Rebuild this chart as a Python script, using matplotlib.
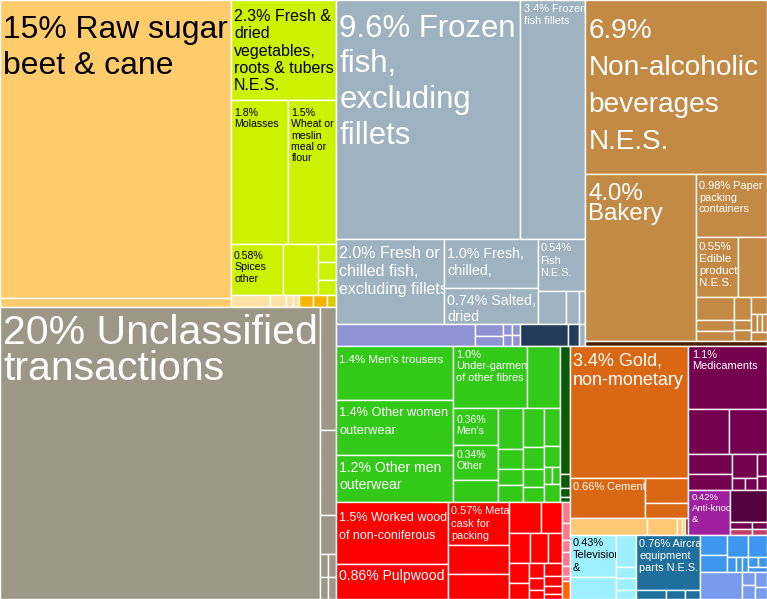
import matplotlib
matplotlib.use('Agg')
import matplotlib.pyplot as plt
from matplotlib.patches import Rectangle
from matplotlib import font_manager as fm

# ---------------- data (share of exports, %) ----------------
sugar_values = [15.0, 0.45]
sugar_labels = ["{p} Raw sugar\nbeet & cane", None]

veg_values = [2.3, 1.8, 1.5, 0.58, 0.39, 0.07, 0.07, 0.06]
veg_labels = ["{p} Fresh &\ndried\nvegetables,\nroots & tubers\nN.E.S.",
              "{p}\nMolasses", "{p}\nWheat or\nmeslin\nmeal or\nflour",
              "{p}\nSpices\nother", None, None, None, None]

pale_values = [0.10, 0.04, 0.02, 0.015]
amber_values = [0.035, 0.035]
olive_values = [0.025]

uncl_values = [20.4, 0.44, 0.30, 0.14, 0.04, 0.04, 0.04, 0.04]
uncl_labels = ["{p} Unclassified\ntransactions"] + [None] * 7

fish_values = [9.6, 3.4, 2.0, 1.0, 0.74, 0.54, 0.21, 0.09, 0.05, 0.03]
fish_labels = ["{p} Frozen\nfish,\nexcluding\nfillets", "{p} Frozen\nfish fillets",
               "{p} Fresh or\nchilled fish,\nexcluding fillets", "{p} Fresh,\nchilled,",
               "{p} Salted,\ndried", "{p}\nFish\nN.E.S.", None, None, None, None]

lav_values = [0.64, 0.07, 0.06, 0.02, 0.02, 0.02, 0.02]
navy_values = [0.22, 0.05]

bev_values = [6.9, 4.0, 0.98, 0.55, 0.37, 0.19, 0.09, 0.08, 0.09, 0.04, 0.04,
              0.06, 0.02, 0.02, 0.02, 0.03]
bev_labels = ["{p}\nNon-alcoholic\nbeverages\nN.E.S.", "{p}\nBakery",
              "{p} Paper\npacking\ncontainers", "{p}\nEdible\nproducts\nN.E.S."] + [None] * 12
dbrown_values = [0.2]

tex_values = [1.4, 1.4, 1.2, 1.0, 0.45, 0.36, 0.34, 0.22, 0.22, 0.11, 0.09, 0.09,
              0.18, 0.10, 0.08, 0.07, 0.13, 0.07, 0.03, 0.03, 0.06]
tex_labels = ["{p} Men's trousers", "{p} Other women\nouterwear", "{p} Other men\nouterwear",
              "{p}\nUnder-garments\nof other fibres", None, "{p}\nMen's", "{p}\nOther"] + [None] * 14
dgreen_values = [0.28, 0.03, 0.02, 0.01]

wood_values = [1.5, 0.86, 0.57, 0.38, 0.33, 0.22, 0.14, 0.14, 0.12, 0.09, 0.09, 0.07,
               0.05, 0.04, 0.03, 0.05, 0.04, 0.03, 0.02]
wood_labels = ["{p} Worked wood\nof non-coniferous", "{p} Pulpwood",
               "{p} Metal\ncask for\npacking"] + [None] * 16
pink_values = [0.035, 0.03, 0.02, 0.024, 0.016, 0.01]
orng_values = [0.03]

gold_values = [3.4, 0.66, 0.24, 0.14]
gold_labels = ["{p} Gold,\nnon-monetary", "{p} Cement", None, None]
cream_values = [0.28, 0.11, 0.02, 0.01]
rust_values = [0.01]

pharma_values = [1.1, 0.40, 0.37, 0.20, 0.15, 0.13, 0.03, 0.03, 0.05, 0.03, 0.03, 0.02]
pharma_labels = ["{p}\nMedicaments"] + [None] * 11
aknock_values = [0.42]
aknock_labels = ["{p}\nAnti-knock\n&"]
plum_values = [0.26]
rose_values = [0.03, 0.02]

tv_values = [0.43, 0.22, 0.14, 0.05, 0.05, 0.04]
tv_labels = ["{p}\nTelevision\n&"] + [None] * 5
air_values = [0.76, 0.06, 0.04, 0.03]
air_labels = ["{p} Aircraft\nequipment\nparts N.E.S.", None, None, None]
blue_values = [0.12, 0.10, 0.10, 0.03, 0.02, 0.02, 0.09, 0.02, 0.02, 0.02]
peri_values = [0.25, 0.04, 0.04, 0.04, 0.03]

# ---------------- styling ----------------
GROUPS = {
    'sugar': (sugar_values, sugar_labels, '#FFCB6B'),
    'veg': (veg_values, veg_labels, '#CCF200'),
    'pale': (pale_values, None, '#FFE2A6'),
    'amber': (amber_values, None, '#F7B400'),
    'olive': (olive_values, None, '#D8CC00'),
    'uncl': (uncl_values, uncl_labels, '#9C9787'),
    'fish': (fish_values, fish_labels, '#9FB2BF'),
    'lav': (lav_values, None, '#8F93D4'),
    'navy': (navy_values, None, '#243B5A'),
    'bev': (bev_values, bev_labels, '#C28A45'),
    'dbrown': (dbrown_values, None, '#4A2000'),
    'tex': (tex_values, tex_labels, '#33C919'),
    'dgreen': (dgreen_values, None, '#0B5A0B'),
    'wood': (wood_values, wood_labels, '#FF0000'),
    'pink': (pink_values, None, '#FF7788'),
    'orng': (orng_values, None, '#FF6600'),
    'gold': (gold_values, gold_labels, '#DA6713'),
    'cream': (cream_values, None, '#FFC875'),
    'rust': (rust_values, None, '#8B1A00'),
    'pharma': (pharma_values, pharma_labels, '#74004F'),
    'aknock': (aknock_values, aknock_labels, '#A020A0'),
    'plum': (plum_values, None, '#56003F'),
    'rose': (rose_values, None, '#C0406A'),
    'tv': (tv_values, tv_labels, '#9EEFFF'),
    'air': (air_values, air_labels, '#1F6F9C'),
    'blue': (blue_values, None, '#3C96EE'),
    'peri': (peri_values, None, '#789BEE'),
}

# label style: size px, line pitch px, first baseline offset px, narrow?, colour, left pad
STYLE = {
    ('sugar', 0): (38, 36, 38, True, 'black', 3),
    ('veg', 0): (19, 17.3, 21, True, 'black', 3),
    ('veg', 1): (10.5, 11, 16, False, 'black', 3),
    ('veg', 2): (10.5, 11.2, 16, False, 'black', 3),
    ('veg', 3): (10.5, 11.5, 15, False, 'black', 3),
    ('uncl', 0): (41, 36, 37, False, 'white', 3),
    ('fish', 0): (37, 35.5, 37, True, 'white', 3),
    ('fish', 1): (11, 11.5, 12.5, False, 'white', 4),
    ('fish', 2): (19, 18, 19, True, 'white', 3),
    ('fish', 3): (17, 16.5, 19, True, 'white', 3),
    ('fish', 4): (17, 16, 17, True, 'white', 3),
    ('fish', 5): (11, 12.5, 12, False, 'white', 3),
    ('bev', 0): (28, 37, 38, False, 'white', 3),
    ('bev', 1): (24, 20, 26, False, 'white', 3),
    ('bev', 2): (11, 11.5, 15, False, 'white', 3),
    ('bev', 3): (11.5, 11.7, 13, False, 'white', 3),
    ('tex', 0): (11.5, 12, 17, False, 'white', 3),
    ('tex', 1): (12.7, 18, 16, False, 'white', 3),
    ('tex', 2): (14, 17, 17, False, 'white', 3),
    ('tex', 3): (11, 11.5, 12, False, 'white', 3),
    ('tex', 5): (10.5, 10.5, 15, False, 'white', 3),
    ('tex', 6): (10.5, 11, 13, False, 'white', 3),
    ('wood', 0): (12.5, 18, 19, False, 'white', 3),
    ('wood', 1): (14, 16, 16, False, 'white', 3),
    ('wood', 2): (11, 12.5, 12, False, 'white', 3),
    ('gold', 0): (21.5, 19, 20, True, 'white', 3),
    ('gold', 1): (11, 12, 12, False, 'white', 3),
    ('pharma', 0): (11, 11.5, 12, False, 'white', 4),
    ('aknock', 0): (9.5, 11, 10, False, 'white', 4),
    ('tv', 0): (11, 12.5, 11, False, 'black', 3),
    ('air', 0): (11, 12.3, 12, False, 'white', 3),
}


def c(g, i):
    return (g, i)


def H(*k):
    return ('H', list(k))


def V(*k):
    return ('V', list(k))


def is_leaf(n):
    return isinstance(n[1], int)


def total(n):
    if is_leaf(n):
        return GROUPS[n[0]][0][n[1]]
    return sum(total(k) for k in n[1])


def layout(n, x, y, w, h, out):
    if is_leaf(n):
        out.append((n, x, y, w, h))
        return
    kind, kids = n
    tot = total(n)
    pos = x if kind == 'H' else y
    for k in kids:
        frac = total(k) / tot
        if kind == 'H':
            layout(k, pos, y, w * frac, h, out)
            pos += w * frac
        else:
            layout(k, x, pos, w, h * frac, out)
            pos += h * frac


tree = H(
    V(
        H(V(c('sugar', 0), c('sugar', 1)),
          V(c('veg', 0),
            H(c('veg', 1), c('veg', 2)),
            H(c('veg', 3), c('veg', 4), V(c('veg', 5), c('veg', 6), c('veg', 7))),
            H(c('pale', 0), c('pale', 1), c('pale', 2), c('pale', 3),
              c('amber', 0), c('amber', 1), c('olive', 0)))),
        H(c('uncl', 0), V(c('uncl', 1), c('uncl', 2), c('uncl', 3),
                          H(c('uncl', 4), c('uncl', 5)), H(c('uncl', 6), c('uncl', 7))))
    ),
    V(
        H(
            V(H(c('fish', 0), c('fish', 1)),
              H(c('fish', 2), V(c('fish', 3), c('fish', 4)),
                V(c('fish', 5), H(c('fish', 6), c('fish', 7), c('fish', 8)))),
              H(c('lav', 0), V(c('lav', 1), c('lav', 2)),
                V(H(c('lav', 3), c('lav', 4)), H(c('lav', 5), c('lav', 6))),
                c('navy', 0), c('navy', 1), c('fish', 9))),
            V(c('bev', 0),
              H(c('bev', 1),
                V(c('bev', 2), H(c('bev', 3), c('bev', 4)),
                  H(V(c('bev', 5), c('bev', 6), c('bev', 7)),
                    V(c('bev', 8), c('bev', 9), c('bev', 10)),
                    V(c('bev', 11), H(c('bev', 12), c('bev', 13), c('bev', 14)), c('bev', 15))))),
              c('dbrown', 0))
        ),
        H(
            V(
                H(V(c('tex', 0), c('tex', 1), c('tex', 2)),
                  V(H(c('tex', 3), c('tex', 4)),
                    H(V(c('tex', 5), c('tex', 6), c('tex', 7)),
                      V(c('tex', 8), c('tex', 9), c('tex', 10), c('tex', 11)),
                      V(c('tex', 12), c('tex', 13), c('tex', 14), c('tex', 15)),
                      V(c('tex', 16), c('tex', 17), H(c('tex', 18), c('tex', 19)), c('tex', 20)))),
                  V(c('dgreen', 0), c('dgreen', 1), c('dgreen', 2), c('dgreen', 3))),
                H(V(c('wood', 0), c('wood', 1)),
                  V(c('wood', 2), c('wood', 3), c('wood', 4)),
                  V(H(c('wood', 5), c('wood', 6)),
                    H(c('wood', 7), c('wood', 8), c('wood', 9)),
                    H(V(c('wood', 10), c('wood', 11)),
                      V(c('wood', 12), c('wood', 13), c('wood', 14)),
                      V(c('wood', 15), c('wood', 16), c('wood', 17), c('wood', 18)))),
                  V(c('pink', 0), c('pink', 1), c('pink', 2), c('pink', 3),
                    c('pink', 4), c('pink', 5), c('orng', 0)))
            ),
            V(
                H(V(c('gold', 0), H(c('gold', 1), V(c('gold', 2), c('gold', 3))),
                    H(c('cream', 0), c('cream', 1), c('cream', 2), c('cream', 3), c('rust', 0))),
                  V(c('pharma', 0), H(c('pharma', 1), c('pharma', 2)),
                    H(V(c('pharma', 3), c('pharma', 4)),
                      V(c('pharma', 5), H(c('pharma', 6), c('pharma', 7))),
                      V(c('pharma', 8), c('pharma', 9))),
                    H(c('aknock', 0),
                      V(c('plum', 0), H(c('pharma', 10), c('pharma', 11)),
                        H(c('rose', 0), c('rose', 1)))))),
                H(V(c('tv', 0), c('tv', 1)),
                  V(c('tv', 2), c('tv', 3), c('tv', 4), c('tv', 5)),
                  V(c('air', 0), H(c('air', 1), c('air', 2), c('air', 3))),
                  V(H(V(c('blue', 0), c('blue', 1)),
                      V(c('blue', 2), H(c('blue', 3), c('blue', 4), c('blue', 5))),
                      V(c('blue', 6), H(c('blue', 7), c('blue', 8)), c('blue', 9))),
                    H(c('peri', 0), V(c('peri', 1), c('peri', 2)), V(c('peri', 3), c('peri', 4)))))
            )
        )
    )
)


def pct(v):
    return f"{v:#.2g}".rstrip('.') + '%'


def has_font(name):
    try:
        fm.findfont(fm.FontProperties(family=name), fallback_to_default=False)
        return True
    except Exception:
        return False


NARROW = has_font('Liberation Sans Narrow')

W, Hpx, DPI = 767, 599, 100
fig = plt.figure(figsize=(W / DPI, Hpx / DPI), dpi=DPI)
fig.patch.set_facecolor('white')
ax = fig.add_axes([0, 0, 1, 1])
ax.set_xlim(0, W)
ax.set_ylim(Hpx, 0)
ax.axis('off')

cells = []
layout(tree, 0, 0, W, Hpx, cells)

for (g, i), x, y, w, h in cells:
    vals, labs, color = GROUPS[g]
    r = Rectangle((x, y), w, h, facecolor=color, edgecolor='white', lw=1.0)
    ax.add_patch(r)
    if labs and labs[i]:
        size, pitch, b1, narrow, tcol, pad = STYLE[(g, i)]
        text = labs[i].replace('{p}', pct(vals[i]))
        if narrow and NARROW:
            fam = ['Liberation Sans Narrow', 'Liberation Sans']
            fs = size
        elif narrow:
            fam = ['Liberation Sans']
            fs = size * 0.84
        else:
            fam = ['Liberation Sans']
            fs = size
        for k, line in enumerate(text.split('\n')):
            t = ax.text(x + pad, y + b1 + k * pitch, line, ha='left', va='baseline',
                        fontsize=fs * 72 / DPI, family=fam, color=tcol, clip_on=True)
            t.set_clip_path(r)

fig.savefig('out.png', dpi=DPI, facecolor='white')
